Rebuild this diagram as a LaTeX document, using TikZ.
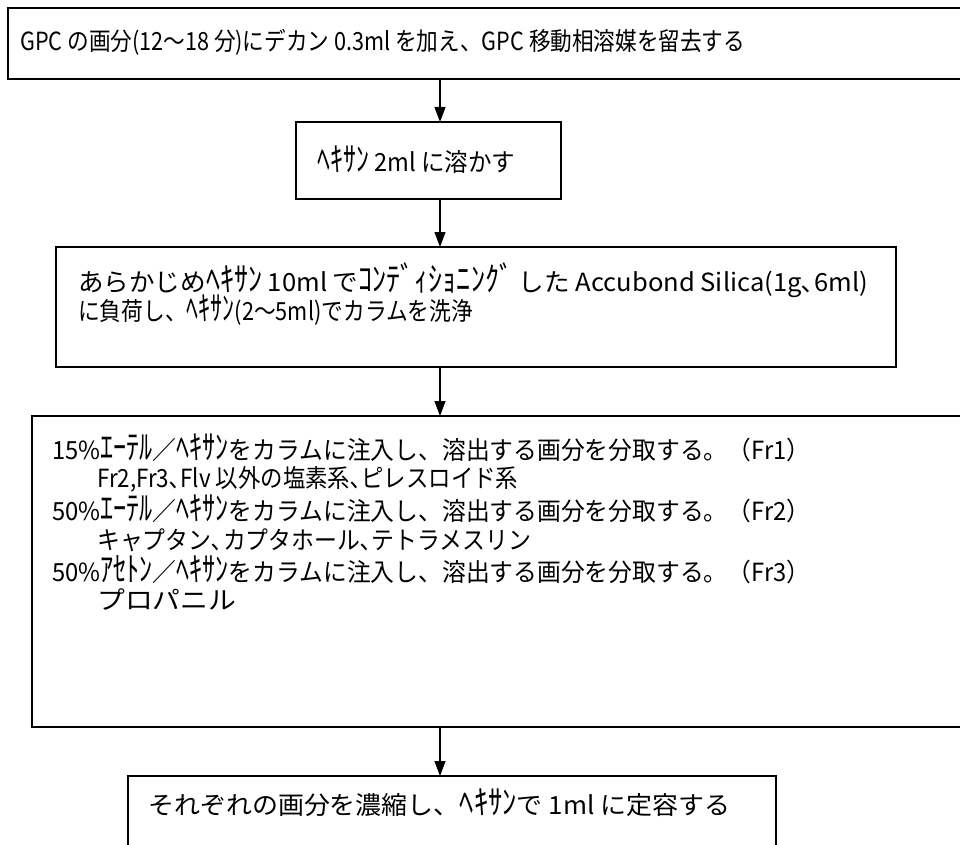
\documentclass[tikz,border=0pt]{standalone}
\usepackage{fontspec}
\usepackage{graphicx}
\usetikzlibrary{arrows.meta,calc}
\newfontfamily\jpfont{Noto Sans CJK JP}
\newcommand{\fitw}[2]{\resizebox{#1pt}{\height}{#2}}
\newcommand{\hk}[1]{\scalebox{1.1}[1.35]{#1}}
\begin{document}
\begin{tikzpicture}[x=1pt,y=-1pt,
  box/.style={draw, line width=2pt, anchor=north west, inner sep=0pt, outer sep=0pt},
  thinbox/.style={box, line width=1.5pt},
  txt/.style={anchor=west, inner sep=0pt, font=\jpfont\fontsize{25}{28}\selectfont},
  arr/.style={line width=1.1pt, -{Triangle[width=11pt,length=15pt]}}]
\clip (0,0) rectangle (960,845);
\fill[white] (0,0) rectangle (960,845);
% boxes
\node[box, minimum width=980pt, minimum height=71pt] (b1) at (8,8) {};
\node[thinbox, minimum width=265pt, minimum height=77pt] (b2) at (296,122) {};
\node[box, minimum width=840pt, minimum height=120pt] (b3) at (56,247) {};
\node[box, minimum width=960pt, minimum height=311pt] (b4) at (32,416) {};
\node[thinbox, minimum width=648pt, minimum height=120pt] (b5) at (128,776) {};
% arrows
\coordinate (ax) at (440,0);
\draw[arr] (b1.south -| ax) -- (b2.north -| ax);
\draw[arr] (b2.south -| ax) -- (b3.north -| ax);
\draw[arr] (b3.south -| ax) -- (b4.north -| ax);
\draw[arr] (b4.south -| ax) -- (b5.north -| ax);
% texts
\node[txt] (t1) at (20,42) {\fitw{725}{GPC の画分(12～18 分)にデカン 0.3ml を加え、GPC 移動相溶媒を留去する}};
\node[txt] (t2) at (317,160) {\fitw{198}{\hk{ﾍｷｻﾝ} 2ml に溶かす}};
\node[txt] (t3a) at (78,280) {\fitw{790}{あらかじめ\hk{ﾍｷｻﾝ} 10ml で\hk{ｺﾝﾃﾞｨｼｮﾆﾝｸﾞ} した Accubond Silica(1g､6ml)}};
\node[txt] (t3b) at (78,310) {\fitw{395}{に負荷し、\hk{ﾍｷｻﾝ}(2～5ml)でカラムを洗浄}};
\node[txt] (t4a) at (52,448) {\fitw{758}{15\%\hk{ｴｰﾃﾙ}／\hk{ﾍｷｻﾝ}をカラムに注入し、溶出する画分を分取する。（Fr1）}};
\node[txt] (t4b) at (97,479) {\fitw{421}{Fr2,Fr3､Flv 以外の塩素系､ピレスロイド系}};
\node[txt] (t4c) at (52,509) {\fitw{758}{50\%\hk{ｴｰﾃﾙ}／\hk{ﾍｷｻﾝ}をカラムに注入し、溶出する画分を分取する。（Fr2）}};
\node[txt] (t4d) at (97,540) {\fitw{434}{キャプタン､カプタホール､テトラメスリン}};
\node[txt] (t4e) at (52,570) {\fitw{758}{50\%\hk{ｱｾﾄﾝ}／\hk{ﾍｷｻﾝ}をカラムに注入し、溶出する画分を分取する。（Fr3）}};
\node[txt] (t4f) at (97,600) {\fitw{139}{プロパニル}};
\node[txt] (t5) at (148,803) {\fitw{582}{それぞれの画分を濃縮し、\hk{ﾍｷｻﾝ}で 1ml に定容する}};
\end{tikzpicture}
\end{document}
